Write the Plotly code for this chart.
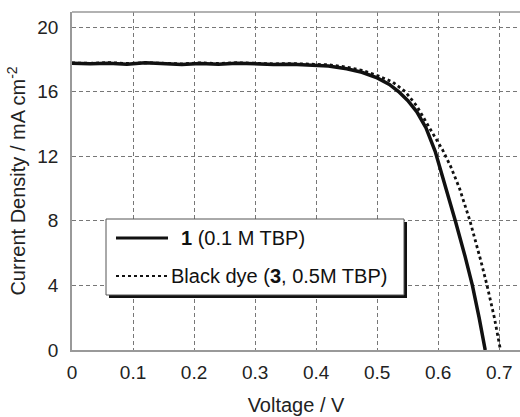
import plotly.graph_objects as go

# Data
v_solid = [0.0, 0.03, 0.06, 0.09, 0.12, 0.15, 0.18, 0.21, 0.24, 0.27, 0.30, 0.33, 0.36, 0.39,
           0.42, 0.45, 0.475, 0.50, 0.52, 0.535, 0.55, 0.565, 0.58, 0.595, 0.61, 0.628,
           0.644, 0.656, 0.667, 0.677]
j_solid = [17.75, 17.72, 17.76, 17.70, 17.78, 17.72, 17.68, 17.74, 17.70, 17.76, 17.72, 17.68,
           17.70, 17.64, 17.58, 17.42, 17.20, 16.85, 16.45, 16.00, 15.45, 14.75, 13.75, 12.30,
           10.40, 8.00, 5.80, 4.00, 2.00, 0.0]

v_dot = [0.0, 0.03, 0.06, 0.09, 0.12, 0.15, 0.18, 0.21, 0.24, 0.27, 0.30, 0.33, 0.36, 0.39,
         0.42, 0.45, 0.475, 0.50, 0.525, 0.546, 0.565, 0.585, 0.607, 0.62, 0.635, 0.652,
         0.661, 0.670, 0.680, 0.692, 0.702]
j_dot = [17.78, 17.75, 17.80, 17.74, 17.79, 17.76, 17.72, 17.78, 17.74, 17.79, 17.76, 17.72,
         17.74, 17.70, 17.66, 17.52, 17.32, 17.00, 16.60, 16.00, 15.10, 13.80, 12.40, 11.40,
         10.00, 8.00, 6.80, 5.50, 4.00, 2.00, 0.0]

x_ticks = [0, 0.1, 0.2, 0.3, 0.4, 0.5, 0.6, 0.7]
x_tick_labels = ["0", "0.1", "0.2", "0.3", "0.4", "0.5", "0.6", "0.7"]
y_ticks = [0, 4, 8, 12, 16, 20]
y_tick_labels = ["0", "4", "8", "12", "16", "20"]

legend_labels = ["<b>1</b> (0.1 M TBP)", "Black dye (<b>3</b>, 0.5M TBP)"]

FONT = "Liberation Sans, Arial, Helvetica, sans-serif"

fig = go.Figure()
fig.add_trace(go.Scatter(x=v_dot, y=j_dot, mode="lines",
                         line=dict(color="#111", width=2.8, dash="dot"),
                         showlegend=False))
fig.add_trace(go.Scatter(x=v_solid, y=j_solid, mode="lines",
                         line=dict(color="#111", width=3.5),
                         showlegend=False))

L, R, T, B = 72, 0, 12, 67
W, H = 520, 417
pw, ph = W - L - R, H - T - B

def px(x):
    return (x - L) / pw

def py(y):
    return (H - B - y) / ph

shapes = []
# top frame line
shapes.append(dict(type="line", xref="paper", yref="paper", x0=0, x1=1, y0=1, y1=1,
                   line=dict(color="#999", width=1.5)))
# legend shadow and box
shapes.append(dict(type="rect", xref="paper", yref="paper",
                   x0=px(109), x1=px(407), y0=py(298), y1=py(222),
                   fillcolor="#111", line=dict(width=0), layer="above"))
shapes.append(dict(type="rect", xref="paper", yref="paper",
                   x0=px(106), x1=px(404), y0=py(295), y1=py(219),
                   fillcolor="white", line=dict(color="#555", width=1), layer="above"))
# legend samples
shapes.append(dict(type="line", xref="paper", yref="paper",
                   x0=px(116), x1=px(168), y0=py(238), y1=py(238),
                   line=dict(color="#111", width=3), layer="above"))
shapes.append(dict(type="line", xref="paper", yref="paper",
                   x0=px(116), x1=px(167), y0=py(276), y1=py(276),
                   line=dict(color="#111", width=2, dash="dot"), layer="above"))

annotations = [
    dict(xref="paper", yref="paper", x=px(179), y=py(238), xanchor="left", yanchor="middle",
         text=legend_labels[0], showarrow=False, font=dict(family=FONT, size=20, color="#111")),
    dict(xref="paper", yref="paper", x=px(169), y=py(276), xanchor="left", yanchor="middle",
         text=legend_labels[1], showarrow=False, font=dict(family=FONT, size=20, color="#111")),
]

fig.update_layout(
    width=W, height=H,
    margin=dict(l=L, r=R, t=T, b=B),
    paper_bgcolor="white", plot_bgcolor="white",
    font=dict(family=FONT, size=19, color="#222"),
    shapes=shapes, annotations=annotations,
    xaxis=dict(range=[0, 0.734], tickvals=x_ticks, ticktext=x_tick_labels,
               showgrid=True, gridcolor="#777", gridwidth=1, griddash="4px,3px",
               showline=True, linecolor="#999", linewidth=1.5, ticks="", zeroline=False,
               automargin=False, ticklabelstandoff=4,
               title=dict(text="Voltage / V", standoff=16, font=dict(size=20))),
    yaxis=dict(range=[0, 20.93], tickvals=y_ticks, ticktext=y_tick_labels,
               showgrid=True, gridcolor="#777", gridwidth=1, griddash="4px,3px",
               showline=True, linecolor="#999", linewidth=1.5, ticks="", zeroline=False,
               automargin=False, ticklabelstandoff=8,
               title=dict(text="Current Density / mA cm<sup>-2</sup>", standoff=6, font=dict(size=20))),
)

fig.write_html("out.html", config={"displayModeBar": False},
               post_script="document.body.style.margin='0px';document.body.style.overflow='hidden';")
